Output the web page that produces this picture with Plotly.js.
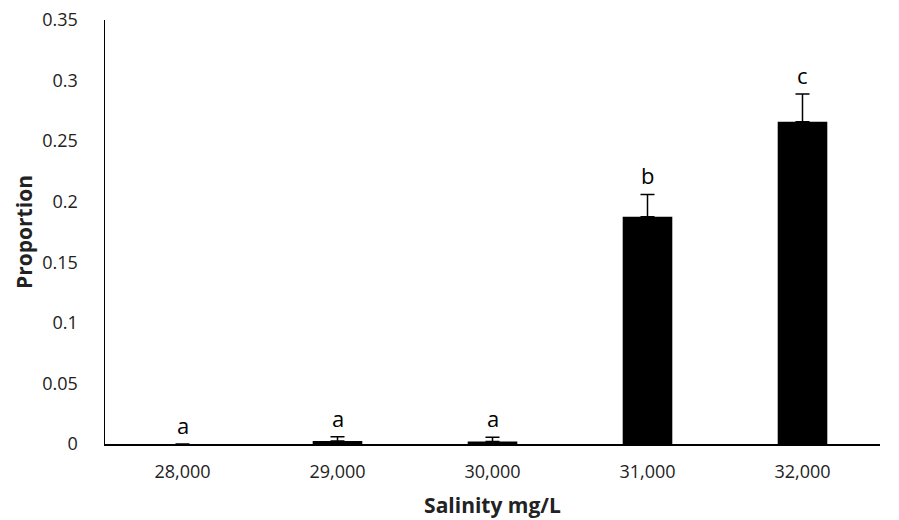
<!DOCTYPE html>
<html><head><meta charset="utf-8">
<script src="https://cdn.plot.ly/plotly-3.0.1.min.js"></script>
<style>body{margin:0;background:#fff}#c{width:899px;height:520px}</style>
</head><body><div id="c"></div>
<script>
const categories = ["28,000", "29,000", "30,000", "31,000", "32,000"];
const proportion = [0, 0.0025, 0.002, 0.1875, 0.266];
const stdErr = [null, 0.0035, 0.0035, 0.0185, 0.023];
const letters = ["a", "a", "a", "b", "c"];

const trace = {
  type: "bar", x: categories, y: proportion,
  marker: {color: "#000000", line: {color: "#000000", width: 0}},
  error_y: {type: "data", array: stdErr, symmetric: false, arrayminus: stdErr.map(() => 0), visible: true, color: "#000000", thickness: 1.5, width: 7},
  hoverinfo: "none"
};
const annotations = categories.map((c, i) => ({
  x: c, y: proportion[i] + (stdErr[i] || 0), xref: "x", yref: "y",
  text: letters[i], showarrow: false, yanchor: "bottom", yshift: 2,
  font: {family: "Open Sans, sans-serif", size: 22, color: "#000"}
}));
const layout = {
  width: 899, height: 520,
  margin: {l: 105, r: 19, t: 20, b: 76},
  paper_bgcolor: "#fff", plot_bgcolor: "#fff",
  showlegend: false, bargap: 0.68,
  font: {family: "Open Sans, sans-serif", color: "#000"},
  xaxis: {
    type: "category", showline: true, linecolor: "#000", linewidth: 1.5,
    ticks: "", showgrid: false, tickfont: {size: 18, color: "#222"},
    ticklabelstandoff: 11,
    title: {text: "<b>Salinity mg/L</b>", font: {size: 21, color: "#222"}, standoff: 16}
  },
  yaxis: {
    range: [0, 0.35], dtick: 0.05, showline: true, linecolor: "#000", linewidth: 1.5,
    ticks: "", showgrid: false, zeroline: false, tickfont: {size: 18, color: "#222"},
    ticklabelstandoff: 22,
    title: {text: "<b>Proportion</b>", font: {size: 21, color: "#222"}, standoff: 4}
  },
  annotations: annotations
};
Plotly.newPlot("c", [trace], layout, {displayModeBar: false, staticPlot: true});
</script></body></html>
